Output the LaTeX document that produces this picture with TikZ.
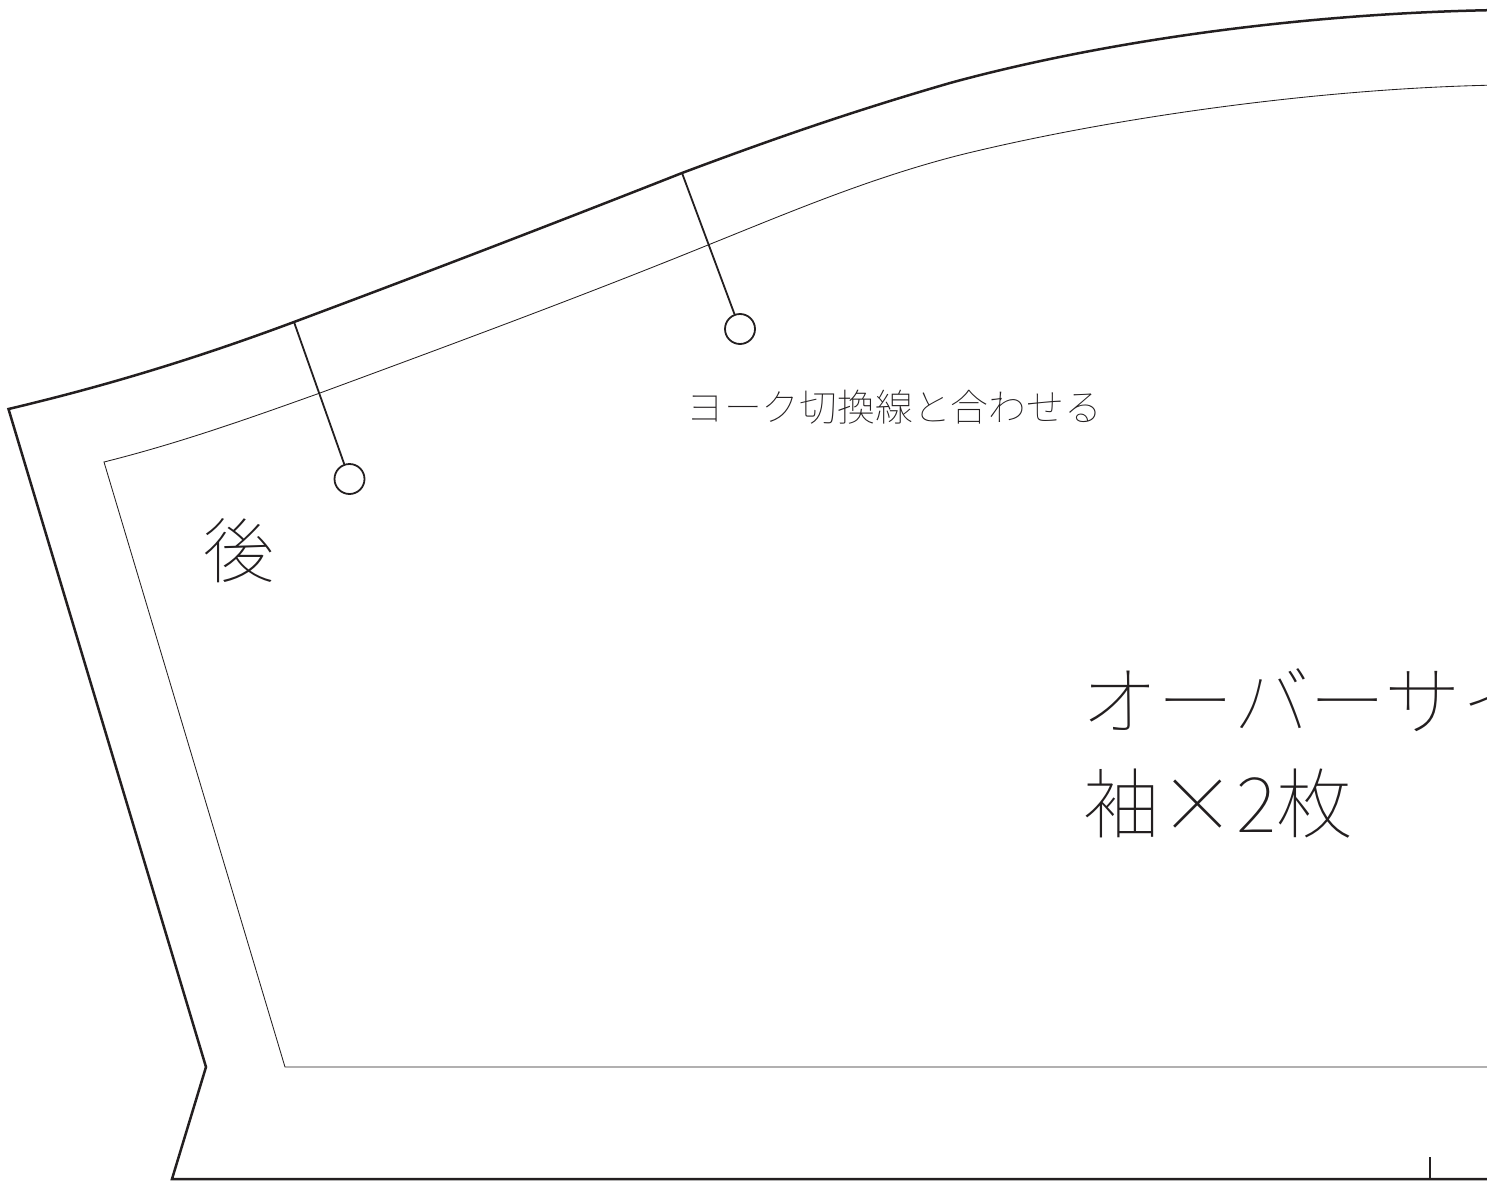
\documentclass[tikz,border=0pt]{standalone}
\usepackage{fontspec}
\newfontfamily\cjk[UprightFont=* Thin]{Noto Sans CJK JP}
\definecolor{ink}{HTML}{231F20}
\begin{document}
\begin{tikzpicture}[x=1pt,y=-1pt,
  cutline/.style={draw=ink,line width=2.5pt,line join=miter},
  seamline/.style={draw=ink,line width=0.85pt},
  notchline/.style={draw=ink,line width=1.8pt},
  notchhole/.style={circle,draw=ink,line width=1.8pt,minimum size=30pt,inner sep=0pt,fill=white},
  lab/.style={inner sep=0pt,anchor=base west,text=ink}]
\useasboundingbox (0,0) rectangle (1487,1180);
\clip (0,0) rectangle (1487,1180);
% outer cut line
\draw[cutline] (1500,10) .. controls (1300,13) and (1100,42) .. (950,83)
  .. controls (850,112) and (770,140) .. (682,173)
  .. controls (550,225) and (420,275) .. (294,322)
  .. controls (200,357) and (110,385) .. (8.5,409)
  -- (206,1067) -- (172,1179) -- (1500,1179);
% inner seam
\draw[seamline] (1500,85) .. controls (1320,88) and (1110,118) .. (960,155)
  .. controls (870,178) and (790,212) .. (708,245)
  .. controls (580,297) and (450,345) .. (320,393)
  .. controls (250,418) and (180,443) .. (104,462)
  -- (285,1067) -- (1500,1067);
% notches
\coordinate (n1) at (294,322);
\coordinate (n2) at (682,173);
\coordinate (t1) at (1430,1179);
\coordinate (t2) at (1430,1157);
\node[notchhole] (h1) at (349.5,479) {};
\node[notchhole] (h2) at (740,329) {};
\draw[notchline] (n1) -- (h1);
\draw[notchline] (n2) -- (h2);
\draw[notchline] (t1) -- (t2);
% labels
\node[lab,font=\cjk\fontsize{37.8pt}{37.8pt}\selectfont] (a) at (686,421) {ヨーク切換線と合わせる};
\node[lab,font=\cjk\fontsize{71pt}{71pt}\selectfont] (b) at (203,577) {後};
\node[lab,font=\cjk\fontsize{76.5pt}{76.5pt}\selectfont] (c) at (1081,729) {オーバーサイズ};
\node[lab,font=\cjk\fontsize{76.5pt}{76.5pt}\selectfont] (d) at (1083,832) {袖×2枚};
\end{tikzpicture}
\end{document}
